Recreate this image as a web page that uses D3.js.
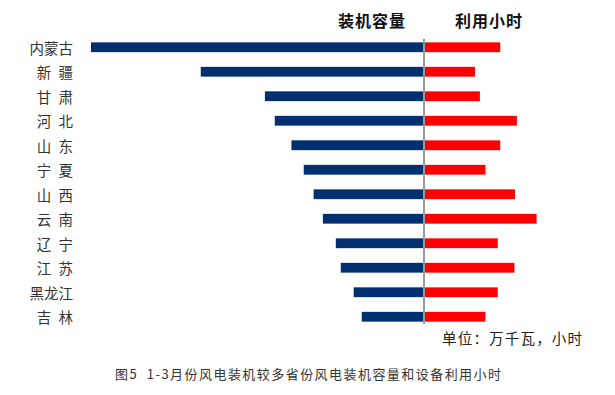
<!DOCTYPE html>
<html>
<head>
<meta charset="utf-8">
<script src="https://cdn.jsdelivr.net/npm/d3@7"></script>
<style>
  body { margin: 0; background: #fff; }
  svg { display: block; font-family: "Noto Sans CJK SC", sans-serif; }
</style>
</head>
<body>
<div id="container"></div>
<script>
// provinces, top to bottom
var provinces = ["内蒙古", "新\u2002疆", "甘\u2002肃", "河\u2002北", "山\u2002东", "宁\u2002夏",
                 "山\u2002西", "云\u2002南", "辽\u2002宁", "江\u2002苏", "黑龙江", "吉\u2002林"];
// 装机容量 (万千瓦)
var capacity = [2700, 1810, 1290, 1210, 1075, 975, 895, 820, 715, 675, 570, 505];
// 利用小时
var hours = [610, 405, 445, 745, 610, 490, 730, 905, 590, 725, 590, 490];

var leftTitle = "装机容量";
var rightTitle = "利用小时";
var unitText = "单位：万千瓦，小时";
var caption = "图5  1-3月份风电装机较多省份风电装机容量和设备利用小时";

var width = 615, height = 395;

var svg = d3.select("#container")
  .append("svg")
  .attr("width", width)
  .attr("height", height);

var x = d3.scaleLinear()
  .domain([-2700, 2700])
  .range([91, 757]);

var y = d3.scaleBand()
  .domain(provinces)
  .range([35, 329])
  .paddingInner(0.6)
  .paddingOuter(0.3);

var rows = provinces.map(function(p, i) {
  return { name: p, cap: capacity[i], hrs: hours[i] };
});

// left bars
svg.selectAll("rect.cap")
  .data(rows)
  .enter().append("rect")
  .attr("class", "cap")
  .attr("x", function(d) { return x(-d.cap); })
  .attr("y", function(d) { return y(d.name); })
  .attr("width", function(d) { return x(0) - x(-d.cap); })
  .attr("height", y.bandwidth())
  .style("fill", "#00306f");

// right bars
svg.selectAll("rect.hrs")
  .data(rows)
  .enter().append("rect")
  .attr("class", "hrs")
  .attr("x", x(0) + 1)
  .attr("y", function(d) { return y(d.name); })
  .attr("width", function(d) { return x(d.hrs) - x(0); })
  .attr("height", y.bandwidth())
  .style("fill", "#ff0000");

// center line
svg.append("line")
  .attr("x1", x(0)).attr("x2", x(0))
  .attr("y1", 39).attr("y2", 324)
  .style("stroke", "#9a9a9a")
  .style("stroke-width", 2);

// category labels
svg.selectAll("text.cat")
  .data(rows)
  .enter().append("text")
  .attr("class", "cat")
  .attr("x", 73)
  .attr("y", function(d) { return y(d.name) + y.bandwidth() / 2; })
  .attr("text-anchor", "end")
  .attr("dominant-baseline", "central")
  .style("font-size", "14.5px")
  .style("fill", "#333")
  .text(function(d) { return d.name; });

// headers
svg.append("text")
  .attr("x", 372).attr("y", 20)
  .attr("text-anchor", "middle")
  .attr("dominant-baseline", "central")
  .style("font-size", "16px")
  .style("font-weight", "bold")
  .style("letter-spacing", "1px")
  .style("fill", "#111")
  .text(leftTitle);

svg.append("text")
  .attr("x", 489).attr("y", 20)
  .attr("text-anchor", "middle")
  .attr("dominant-baseline", "central")
  .style("font-size", "16px")
  .style("font-weight", "bold")
  .style("letter-spacing", "1px")
  .style("fill", "#111")
  .text(rightTitle);

// unit
svg.append("text")
  .attr("x", 442).attr("y", 337)
  .attr("dominant-baseline", "central")
  .attr("textLength", 140)
  .attr("lengthAdjust", "spacing")
  .style("font-size", "14.5px")
  .style("fill", "#222")
  .text(unitText);

// caption
svg.append("text")
  .attr("x", 115).attr("y", 373)
  .attr("dominant-baseline", "central")
  .attr("textLength", 386)
  .attr("lengthAdjust", "spacing")
  .style("font-size", "13px")
  .style("fill", "#333")
  .style("white-space", "pre")
  .text(caption);
</script>
</body>
</html>
